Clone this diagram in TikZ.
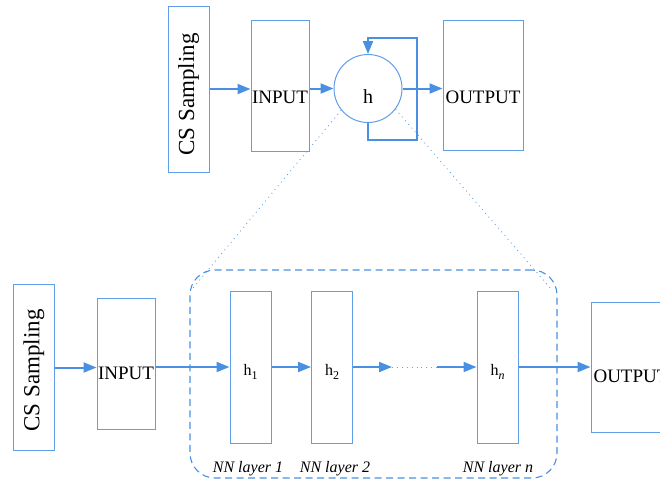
\documentclass[tikz,border=0pt]{standalone}
\usepackage{fontspec}
\setmainfont{Liberation Serif}
\usetikzlibrary{arrows.meta}
\definecolor{arrblue}{RGB}{74,144,226}
\definecolor{boxblue}{RGB}{96,158,232}
\newcommand{\lowr}[2]{\raisebox{-#1}[\height][\depth]{#2}}
\newcommand{\sbx}[1]{\raisebox{-3.5pt}{\fontsize{12}{14}\selectfont #1}}
\tikzset{
  blk/.style={draw=boxblue, line width=1pt, inner sep=0pt, rectangle, font=\fontsize{19}{22}\selectfont},
  csbox/.style={blk, minimum width=41pt, minimum height=166pt, font=\fontsize{23}{26}\selectfont},
  inbox/.style={blk, minimum width=58pt, minimum height=131pt},
  outbox/.style={blk, minimum width=80pt, minimum height=130pt},
  layerbox/.style={blk, minimum width=41pt, minimum height=152pt, font=\fontsize{16}{18}\selectfont},
  arr/.style={draw=arrblue, line width=2pt, -{Triangle[length=13pt,width=10pt]}},
  dotline/.style={draw=arrblue!85, line width=0.9pt, dash pattern=on 0.9pt off 4pt},
  lbl/.style={font=\fontsize{16}{19}\selectfont\itshape, inner sep=0pt},
  grp/.style={draw=arrblue, line width=1.1pt, dash pattern=on 7pt off 4.5pt, rounded corners=25pt, inner sep=0pt, minimum width=367pt, minimum height=208pt}
}
\begin{document}
\begin{tikzpicture}[x=1pt,y=-1pt]
\useasboundingbox (0,0) rectangle (660,480);
\clip (0,0) rectangle (660,480);
% top row
\node[csbox] (cs1) at (188.5,89) {\lowr{5.5pt}{\rotatebox{90}{CS Sampling}}};
\node[inbox] (in1) at (280,85.5) {\lowr{11.5pt}{INPUT}};
\node[draw=boxblue, line width=1pt, circle, minimum size=68pt, inner sep=0pt, font=\fontsize{20}{22}\selectfont] (h) at (368,88.5) {\lowr{8.5pt}{h}};
\node[outbox] (out1) at (483,85) {\lowr{12pt}{OUTPUT}};
\coordinate (fbr) at (417,140);
\coordinate (fbt) at (417,38);
\draw[arr] (cs1.east) -- (cs1.east -| in1.west);
\draw[arr] (in1.east |- h.west) -- (h.west);
\draw[arr] (h.east) -- (h.east -| out1.west);
\draw[arr, line join=miter] (h.south) |- (fbr) -- (fbt) -| (h.north);
% bottom row
\node[grp] (grp) at (373.5,374) {};
\node[csbox] (cs2) at (34,367.5) {\lowr{3pt}{\rotatebox{90}{CS Sampling}}};
\node[inbox] (in2) at (126,363.5) {\lowr{9.5pt}{INPUT}};
\node[layerbox] (h1) at (250.5,367) {\lowr{5pt}{h\sbx{1}}};
\node[layerbox] (h2) at (332,367) {\lowr{5pt}{h\sbx{2}}};
\node[layerbox] (hn) at (497.5,367) {\lowr{5pt}{h\sbx{\itshape n}}};
\node[outbox] (out2) at (631,367) {\lowr{9pt}{OUTPUT}};
\coordinate (d1) at (392,367);
\coordinate (d2) at (437,367);
\draw[arr] (cs2.east) -- (cs2.east -| in2.west);
\draw[arr] (in2.east |- h1.west) -- (h1.west);
\draw[arr] (h1.east) -- (h2.west);
\draw[arr] (h2.east) -- (d1);
\draw[dotline] (d1) -- (d2);
\draw[arr] (d2) -- (hn.west);
\draw[arr] (hn.east) -- (hn.east -| out2.west);
\node[lbl] (l1) at (248,469) {NN layer 1};
\node[lbl] (l2) at (335,469) {NN layer 2};
\node[lbl] (ln) at (498,469) {NN layer n};
% zoom lines
\coordinate (dl) at (193,288);
\coordinate (dr) at (552,290);
\draw[dotline] (h.219) -- (dl);
\draw[dotline] (h.-37) -- (dr);
\end{tikzpicture}
\end{document}
